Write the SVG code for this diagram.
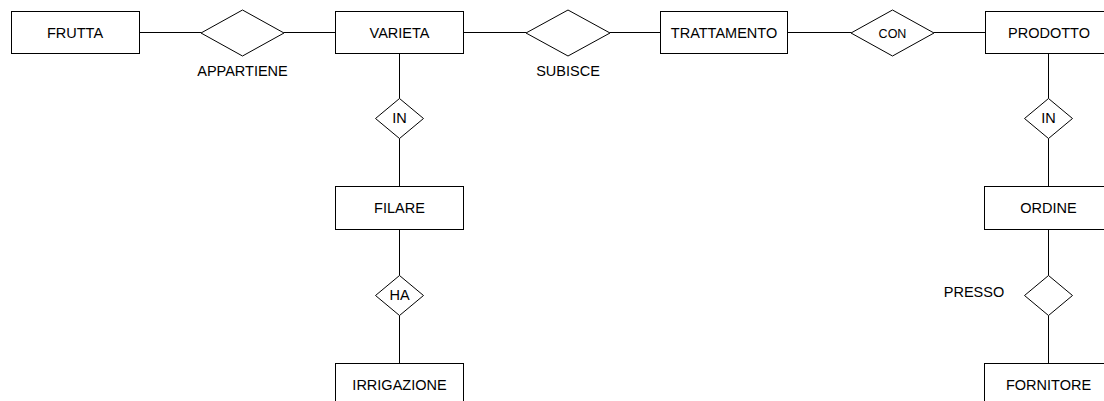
<svg xmlns="http://www.w3.org/2000/svg" width="1104" height="401" viewBox="0 0 1104 401">
<style>
.ent{fill:#fff;stroke:#000;stroke-width:1}
.rel{fill:#fff;stroke:#000;stroke-width:1}
.t{font-family:"Liberation Sans",Arial,sans-serif;font-size:14.5px;fill:#000;text-anchor:middle}
.s{font-size:12.5px}
#connectors line{stroke:#000;stroke-width:1}
</style>
<rect width="1104" height="401" fill="#fff"/>
<g id="connectors">
<line x1="139" y1="32.5" x2="201" y2="32.5"/>
<line x1="284" y1="32.5" x2="335" y2="32.5"/>
<line x1="463" y1="32.5" x2="526" y2="32.5"/>
<line x1="610" y1="32.5" x2="660" y2="32.5"/>
<line x1="788" y1="32.5" x2="851" y2="32.5"/>
<line x1="934" y1="32.5" x2="985" y2="32.5"/>
<line x1="399.5" y1="54" x2="399.5" y2="98.5"/>
<line x1="399.5" y1="138.5" x2="399.5" y2="186.5"/>
<line x1="399.5" y1="229.5" x2="399.5" y2="275.5"/>
<line x1="399.5" y1="315.5" x2="399.5" y2="363"/>
<line x1="1048.5" y1="54" x2="1048.5" y2="98.5"/>
<line x1="1048.5" y1="138.5" x2="1048.5" y2="186.5"/>
<line x1="1048.5" y1="229.5" x2="1048.5" y2="275.5"/>
<line x1="1048.5" y1="315.5" x2="1048.5" y2="363"/>
</g>
<g id="frutta"><rect class="ent" x="11.5" y="11.5" width="128" height="42"/><text class="t" x="75" y="37.5">FRUTTA</text></g>
<g id="appartiene"><polygon class="rel" points="242.5,10 284,33 242.5,56 201,33"/><text class="t" x="242.5" y="75.5">APPARTIENE</text></g>
<g id="varieta"><rect class="ent" x="335.5" y="11.5" width="128" height="42"/><text class="t" x="399.5" y="37.5">VARIETA</text></g>
<g id="subisce"><polygon class="rel" points="568,10 610,33 568,56 526,33"/><text class="t" x="568" y="75.5">SUBISCE</text></g>
<g id="trattamento"><rect class="ent" x="660.5" y="11.5" width="127" height="42"/><text class="t" x="724" y="37.5">TRATTAMENTO</text></g>
<g id="con"><polygon class="rel" points="892.5,10 934,33 892.5,56 851,33"/><text class="t s" x="892.5" y="37.5">CON</text></g>
<g id="prodotto"><rect class="ent" x="985.5" y="11.5" width="128" height="42"/><text class="t" x="1049" y="37.5">PRODOTTO</text></g>
<g id="in1"><polygon class="rel" points="399.5,98.5 423.5,118.5 399.5,138.5 375.5,118.5"/><text class="t" x="399.5" y="122.5">IN</text></g>
<g id="filare"><rect class="ent" x="335.5" y="186.5" width="128" height="43"/><text class="t" x="399.5" y="213">FILARE</text></g>
<g id="ha"><polygon class="rel" points="399.5,275.5 423.5,295.5 399.5,315.5 375.5,295.5"/><text class="t" x="399.5" y="300">HA</text></g>
<g id="irrigazione"><rect class="ent" x="335.5" y="363.5" width="128" height="43"/><text class="t" x="399.5" y="389.5">IRRIGAZIONE</text></g>
<g id="in2"><polygon class="rel" points="1048.5,98.5 1072.5,118.5 1048.5,138.5 1024.5,118.5"/><text class="t" x="1048.5" y="122.5">IN</text></g>
<g id="ordine"><rect class="ent" x="984.5" y="186.5" width="128" height="43"/><text class="t" x="1048.5" y="213">ORDINE</text></g>
<g id="presso"><polygon class="rel" points="1048.5,275.5 1072.5,295.5 1048.5,315.5 1024.5,295.5"/><text class="t" x="974" y="297">PRESSO</text></g>
<g id="fornitore"><rect class="ent" x="984.5" y="363.5" width="128" height="43"/><text class="t" x="1048.5" y="389.5">FORNITORE</text></g>
</svg>
